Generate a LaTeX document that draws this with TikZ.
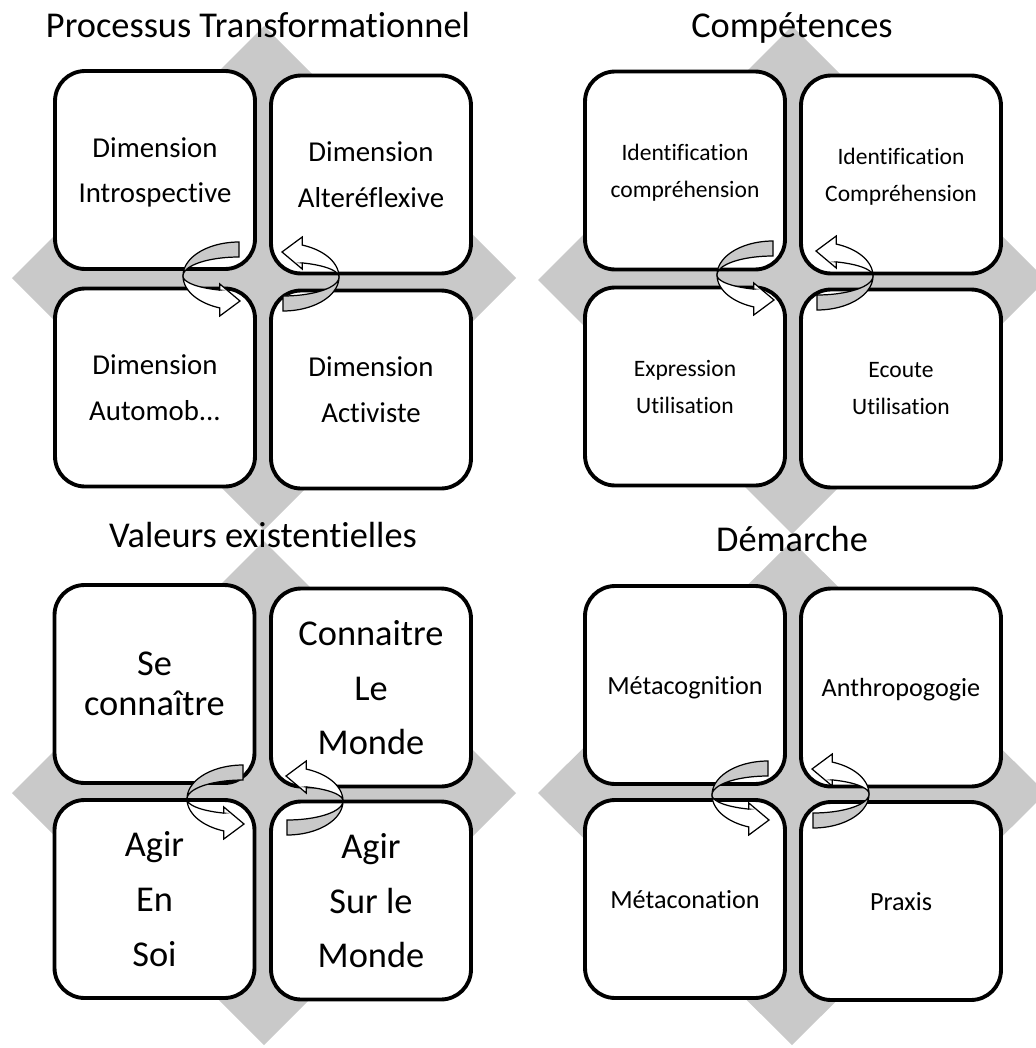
\documentclass[tikz,border=0pt]{standalone}
\usepackage{fontspec}
\setmainfont[Ligatures=NoCommon]{Carlito}
\usetikzlibrary{positioning}

\tikzset{
  arrback/.style={fill=black!21, draw=black, line width=0.7pt},
  arrfront/.style={fill=white, draw=black, line width=0.7pt},
  cycarrow/.pic={
    \filldraw[arrback] (0,-34)
      -- plot[domain=-90:-180, samples=24] ({56*cos(\x)},{34*sin(\x)})
      -- plot[domain=-180:-90, samples=24] ({56*cos(\x)},{19*sin(\x)}) -- cycle;
    \filldraw[arrfront] (-56,0)
      -- plot[domain=180:110, samples=20] ({56*cos(\x)},{34*sin(\x)})
      -- ++(0,8) -- (1,25) -- (-19.2,8) -- (-19.2,14.1)
      -- plot[domain=110:180, samples=20] ({56*cos(\x)},{15*sin(\x)}) -- cycle;
  }
}

\begin{document}
\begin{tikzpicture}[
  x=0.02cm, y=-0.02cm,
  diam/.style={fill=black!21},
  cell/.style={rectangle, rounded corners=0.6cm, draw=black, line width=2.2pt,
               fill=white, minimum width=4cm, minimum height=3.96cm,
               inner sep=2pt, text depth=0pt, align=center},
  ttl/.style={anchor=base, font=\fontsize{20.7}{25}\selectfont},
  pcell/.style={cell, font=\fontsize{16.4}{26}\selectfont},
  ccell/.style={cell, font=\fontsize{13.4}{21}\selectfont},
  vcell/.style={cell, font=\fontsize{20.7}{31.2}\selectfont},
  dcell/.style={cell, font=\fontsize{14.9}{18}\selectfont}
]
\useasboundingbox (0,0) rectangle (1035,1048);

% grey diamonds behind each group
\fill[diam] (264,26) -- (516,278) -- (264,530) -- (12,278) -- cycle;
\fill[diam] (792,26) -- (1046,280) -- (792,534) -- (538,280) -- cycle;
\fill[diam] (264,541) -- (516,793) -- (264,1045) -- (12,793) -- cycle;
\fill[diam] (792,541) -- (1046,793) -- (792,1045) -- (538,793) -- cycle;

% Processus Transformationnel
\node[pcell] (p1) at (155,170)   {Dimension\\Introspective};
\node[pcell] (p2) at (371,174.5) {Dimension\\Alteréflexive};
\node[pcell] (p3) at (155,387.5) {Dimension\\Automob...};
\node[pcell] (p4) at (371,389.5) {Dimension\\Activiste};

% Compétences
\node[ccell] (c1) at (685,170.5) {Identification\\compréhension};
\node[ccell] (c2) at (901,174.5) {Identification\\Compréhension};
\node[ccell] (c3) at (685,386.5) {Expression\\Utilisation};
\node[ccell] (c4) at (901,388.5) {Ecoute\\Utilisation};

% Valeurs existentielles
\node[vcell, font=\fontsize{20.7}{22.7}\selectfont] (v1) at (154.5,684) {Se\\connaître};
\node[vcell] (v2) at (371,687.5)   {Connaitre\\Le\\Monde};
\node[vcell] (v3) at (154.5,899)   {Agir\\En\\Soi};
\node[vcell] (v4) at (371,900.5)   {Agir\\Sur le\\Monde};

% Démarche
\node[dcell] (d1) at (685,685)   {Métacognition};
\node[dcell] (d2) at (901,687.5) {Anthropogogie};
\node[dcell] (d3) at (685,899)   {Métaconation};
\node[dcell] (d4) at (901,901)   {Praxis};

% titles
\node[ttl] (tp) at (258,37)  {Processus Transformationnel};
\node[ttl] (tc) at (792,37)  {Compétences};
\node[ttl] (tv) at (263,547) {Valeurs existentielles};
\node[ttl] (td) at (792,551) {Démarche};

% turning arrows
\pic at (239,276) {cycarrow};
\pic[rotate=180] at (283,277) {cycarrow};
\pic at (773,275) {cycarrow};
\pic[rotate=180] at (817,276) {cycarrow};
\pic at (243,799) {cycarrow};
\pic[rotate=180] at (287,801) {cycarrow};
\pic at (768,795) {cycarrow};
\pic[rotate=180] at (813,794) {cycarrow};
\end{tikzpicture}
\end{document}
